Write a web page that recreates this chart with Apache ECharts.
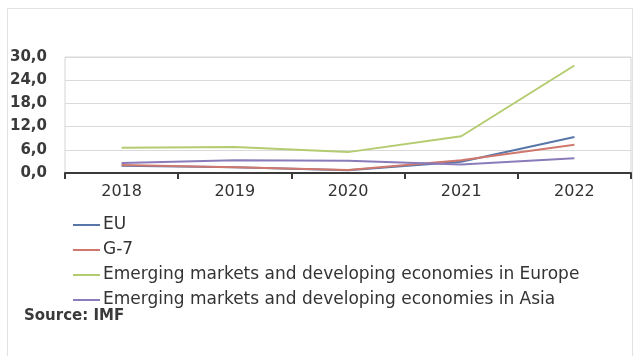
<!DOCTYPE html>
<html>
<head>
<meta charset="utf-8">
<script src="https://cdn.jsdelivr.net/npm/echarts@6/dist/echarts.min.js"></script>
<style>
  html, body { margin: 0; padding: 0; background: #ffffff; }
  #chart { width: 638px; height: 356px; }
</style>
</head>
<body>
<div id="chart"></div>
<script>
// Inflation, annual % (IMF)
const years = ['2018', '2019', '2020', '2021', '2022'];
const euValues = [1.9, 1.5, 0.7, 2.9, 9.3];
const g7Values = [2.1, 1.5, 0.8, 3.3, 7.3];
const emEuropeValues = [6.5, 6.7, 5.4, 9.5, 27.8];
const emAsiaValues = [2.6, 3.3, 3.2, 2.2, 3.8];
const yTicks = { min: 0, max: 30, step: 6 };
const seriesNames = [
  'EU',
  'G-7',
  'Emerging markets and developing economies in Europe',
  'Emerging markets and developing economies in Asia'
];
const sourceNote = 'Source: IMF';

const colors = ['#5877a8', '#d0786e', '#b4cc70', '#8a7cba'];
const font = 'DejaVu Sans';

const chart = echarts.init(document.getElementById('chart'));

function lineSeries(name, data, color) {
  return {
    name: name,
    type: 'line',
    data: data,
    symbol: 'none',
    smooth: false,
    lineStyle: { color: color, width: 2 },
    itemStyle: { color: color }
  };
}

chart.setOption({
  animation: false,
  backgroundColor: '#ffffff',
  grid: {
    left: 65, right: 7, top: 57, bottom: 183,
    show: true, borderColor: '#d6d6d6', borderWidth: 1
  },
  xAxis: {
    type: 'category',
    data: years,
    boundaryGap: true,
    axisLine: { lineStyle: { color: '#3a3a3a', width: 2 } },
    axisTick: { show: true, alignWithLabel: false, length: 6, inside: false,
      lineStyle: { color: '#3a3a3a', width: 2 } },
    axisLabel: { color: '#333333', fontFamily: font, fontSize: 16, margin: 11 }
  },
  yAxis: {
    type: 'value',
    min: yTicks.min, max: yTicks.max, interval: yTicks.step,
    axisLine: { show: false },
    axisTick: { show: false },
    splitLine: { lineStyle: { color: '#dadada', width: 1 } },
    axisLabel: {
      color: '#3a3a3a', fontFamily: font, fontSize: 15, fontWeight: 'bold', margin: 18,
      formatter: v => v.toFixed(1).replace('.', ',')
    }
  },
  legend: {
    orient: 'vertical',
    left: 72, top: 216,
    padding: 0,
    itemWidth: 27, itemHeight: 2,
    itemGap: 7,
    data: seriesNames,
    textStyle: { color: '#333333', fontFamily: font, fontSize: 17, lineHeight: 18, padding: [0, 0, 0, -2] }
  },
  graphic: [
    {
      type: 'rect',
      shape: { x: 7.5, y: 8.5, width: 625, height: 350 },
      style: { fill: 'none', stroke: '#e2e2e2', lineWidth: 1 },
      silent: true, z: -1
    },
    {
      type: 'text',
      left: 24, top: 309,
      style: { text: sourceNote, fill: '#3a3a3a', font: 'bold 15px "DejaVu Sans"' }
    }
  ],
  series: [
    lineSeries(seriesNames[0], euValues, colors[0]),
    lineSeries(seriesNames[1], g7Values, colors[1]),
    lineSeries(seriesNames[2], emEuropeValues, colors[2]),
    lineSeries(seriesNames[3], emAsiaValues, colors[3])
  ]
});
</script>
</body>
</html>
